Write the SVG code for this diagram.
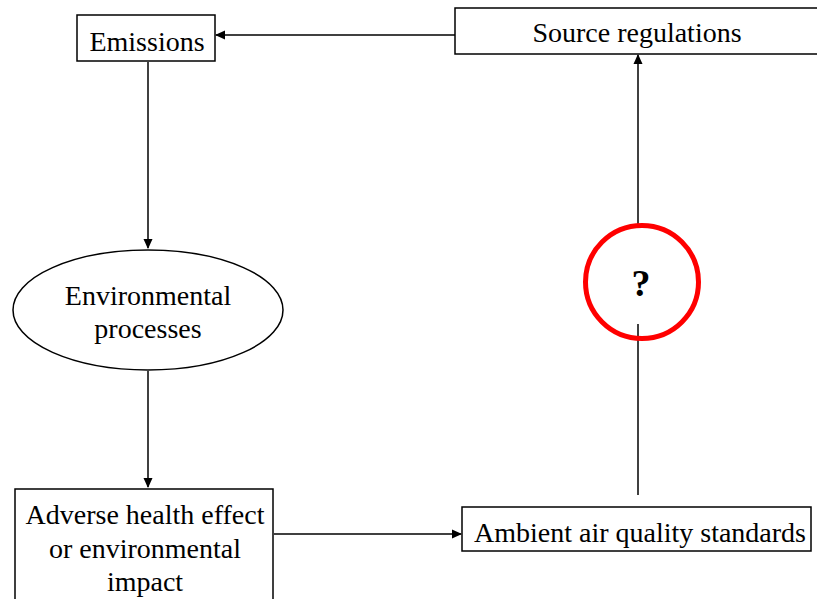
<svg xmlns="http://www.w3.org/2000/svg" width="817" height="599" viewBox="0 0 817 599">
<style>
.n{fill:#fff;stroke:#000;stroke-width:1.5}
.t{font-family:"Liberation Serif","Times New Roman",serif;font-size:28px;fill:#000;text-anchor:middle}
.c{stroke:#000;stroke-width:1.5;fill:none}
</style>
<defs>
<marker id="a" markerWidth="10" markerHeight="10" refX="9" refY="5" orient="auto" markerUnits="userSpaceOnUse">
<path d="M0,0.5 L10,5 L0,9.5 Z" fill="#000"/>
</marker>
</defs>
<rect width="817" height="599" fill="#fff"/>
<g id="connectors">
<line class="c" x1="455" y1="35" x2="216" y2="35" marker-end="url(#a)"/>
<line class="c" x1="148" y1="62" x2="148" y2="248" marker-end="url(#a)"/>
<line class="c" x1="148" y1="371" x2="148" y2="487" marker-end="url(#a)"/>
<line class="c" x1="274" y1="534" x2="461" y2="534" marker-end="url(#a)"/>
<line class="c" x1="638" y1="495" x2="638" y2="324"/>
<line class="c" x1="638" y1="224" x2="638" y2="55" marker-end="url(#a)"/>
</g>
<g id="emissions">
<rect class="n" x="77" y="15" width="138" height="46"/>
<text class="t" x="147" y="51">Emissions</text>
</g>
<g id="source-regulations">
<rect class="n" x="455" y="8" width="370" height="46"/>
<text class="t" x="637" y="42">Source regulations</text>
</g>
<g id="environmental-processes">
<ellipse class="n" cx="148" cy="310" rx="135" ry="60"/>
<text class="t" x="148" y="305">Environmental</text>
<text class="t" x="148" y="338">processes</text>
</g>
<g id="adverse">
<rect class="n" x="15" y="489" width="258" height="120"/>
<text class="t" x="145" y="524">Adverse health effect</text>
<text class="t" x="145" y="558">or environmental</text>
<text class="t" x="145" y="591">impact</text>
</g>
<g id="ambient">
<rect class="n" x="462" y="507" width="349" height="44"/>
<text class="t" x="640" y="542">Ambient air quality standards</text>
</g>
<g id="question">
<circle cx="642" cy="282" r="56.5" fill="none" stroke="#f00" stroke-width="5"/>
<text class="t" x="641" y="296" style="font-weight:bold;font-size:38px">?</text>
</g>
</svg>
